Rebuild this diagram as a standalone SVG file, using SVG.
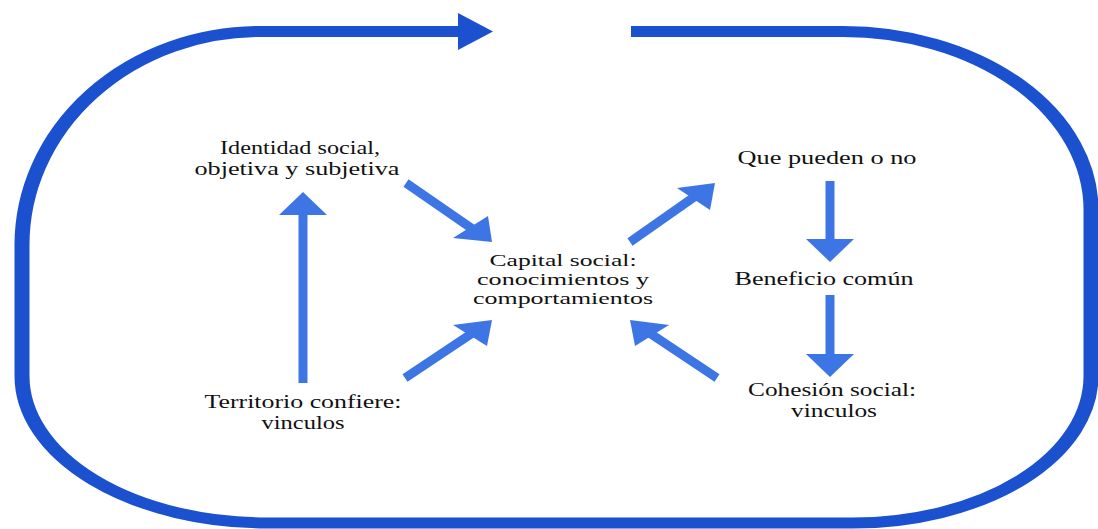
<svg xmlns="http://www.w3.org/2000/svg" width="1098" height="529" viewBox="0 0 1098 529">
<defs>
<style>
.loop{fill:none;stroke:#1b50cf;stroke-width:15}
.loophead{fill:#1b50cf}
.sh{stroke:#3d76e4;stroke-width:9;fill:none}
.hd{fill:#3d76e4}
.lbl{font-family:'Liberation Serif','DejaVu Serif','Noto Serif',serif;font-size:19px;fill:#111;text-anchor:middle}
.sm{font-size:17px}
</style>
</defs>
<rect width="1098" height="529" fill="#ffffff"/>
<g id="connectors">
<g id="loop">
<path class="loop" transform="scale(1,0.7333)" d="M 631 42.95 L 843 42.95 A 248 243.4 0 0 1 1091 286.4 L 1091 512.7 A 238 200.5 0 0 1 853 713.2 L 267 713.2 A 245 200.5 0 0 1 22 512.7 L 22 334.1 A 238 291.1 0 0 1 260 42.95 L 462 42.95"/>
<polygon class="loophead" points="458,13 493,31.5 458,50"/>
</g>
<g id="e-territorio-identidad">
<line class="sh" x1="303" y1="383" x2="303" y2="212"/>
<polygon class="hd" points="279,215 327,215 303,192"/>
</g>
<g id="e-identidad-capital">
<line class="sh" x1="406" y1="183" x2="474" y2="230"/>
<polygon class="hd" points="492,242 453,238 488,216"/>
</g>
<g id="e-territorio-capital">
<line class="sh" x1="405" y1="378" x2="474" y2="332"/>
<polygon class="hd" points="492,320 453,325 487,346"/>
</g>
<g id="e-capital-que">
<line class="sh" x1="630" y1="242" x2="697" y2="195"/>
<polygon class="hd" points="715,183 677,188 710,210"/>
</g>
<g id="e-cohesion-capital">
<line class="sh" x1="717" y1="378" x2="648" y2="332"/>
<polygon class="hd" points="630,320 669,325 635,346"/>
</g>
<g id="e-que-beneficio">
<line class="sh" x1="830" y1="181" x2="830" y2="242"/>
<polygon class="hd" points="806,239 854,239 830,262"/>
</g>
<g id="e-beneficio-cohesion">
<line class="sh" x1="830" y1="295" x2="830" y2="357"/>
<polygon class="hd" points="806,354 854,354 830,377"/>
</g>
</g>
<g id="n-identidad" class="lbl">
<text x="300" y="154" textLength="160" lengthAdjust="spacingAndGlyphs">Identidad social,</text>
<text x="297" y="175" textLength="205" lengthAdjust="spacingAndGlyphs">objetiva y subjetiva</text>
</g>
<g id="n-territorio" class="lbl">
<text x="303" y="408" textLength="197" lengthAdjust="spacingAndGlyphs">Territorio confiere:</text>
<text x="303" y="429" textLength="83" lengthAdjust="spacingAndGlyphs">vinculos</text>
</g>
<g id="n-capital" class="lbl sm">
<text x="563" y="266" textLength="147" lengthAdjust="spacingAndGlyphs">Capital social:</text>
<text x="563" y="285" textLength="172" lengthAdjust="spacingAndGlyphs">conocimientos y</text>
<text x="563" y="304" textLength="180" lengthAdjust="spacingAndGlyphs">comportamientos</text>
</g>
<g id="n-que" class="lbl">
<text x="827" y="164" textLength="179" lengthAdjust="spacingAndGlyphs">Que pueden o no</text>
</g>
<g id="n-beneficio" class="lbl">
<text x="824" y="285" textLength="179" lengthAdjust="spacingAndGlyphs">Beneficio común</text>
</g>
<g id="n-cohesion" class="lbl">
<text x="832" y="396" textLength="168" lengthAdjust="spacingAndGlyphs">Cohesión social:</text>
<text x="834" y="417" textLength="86" lengthAdjust="spacingAndGlyphs">vinculos</text>
</g>
</svg>
